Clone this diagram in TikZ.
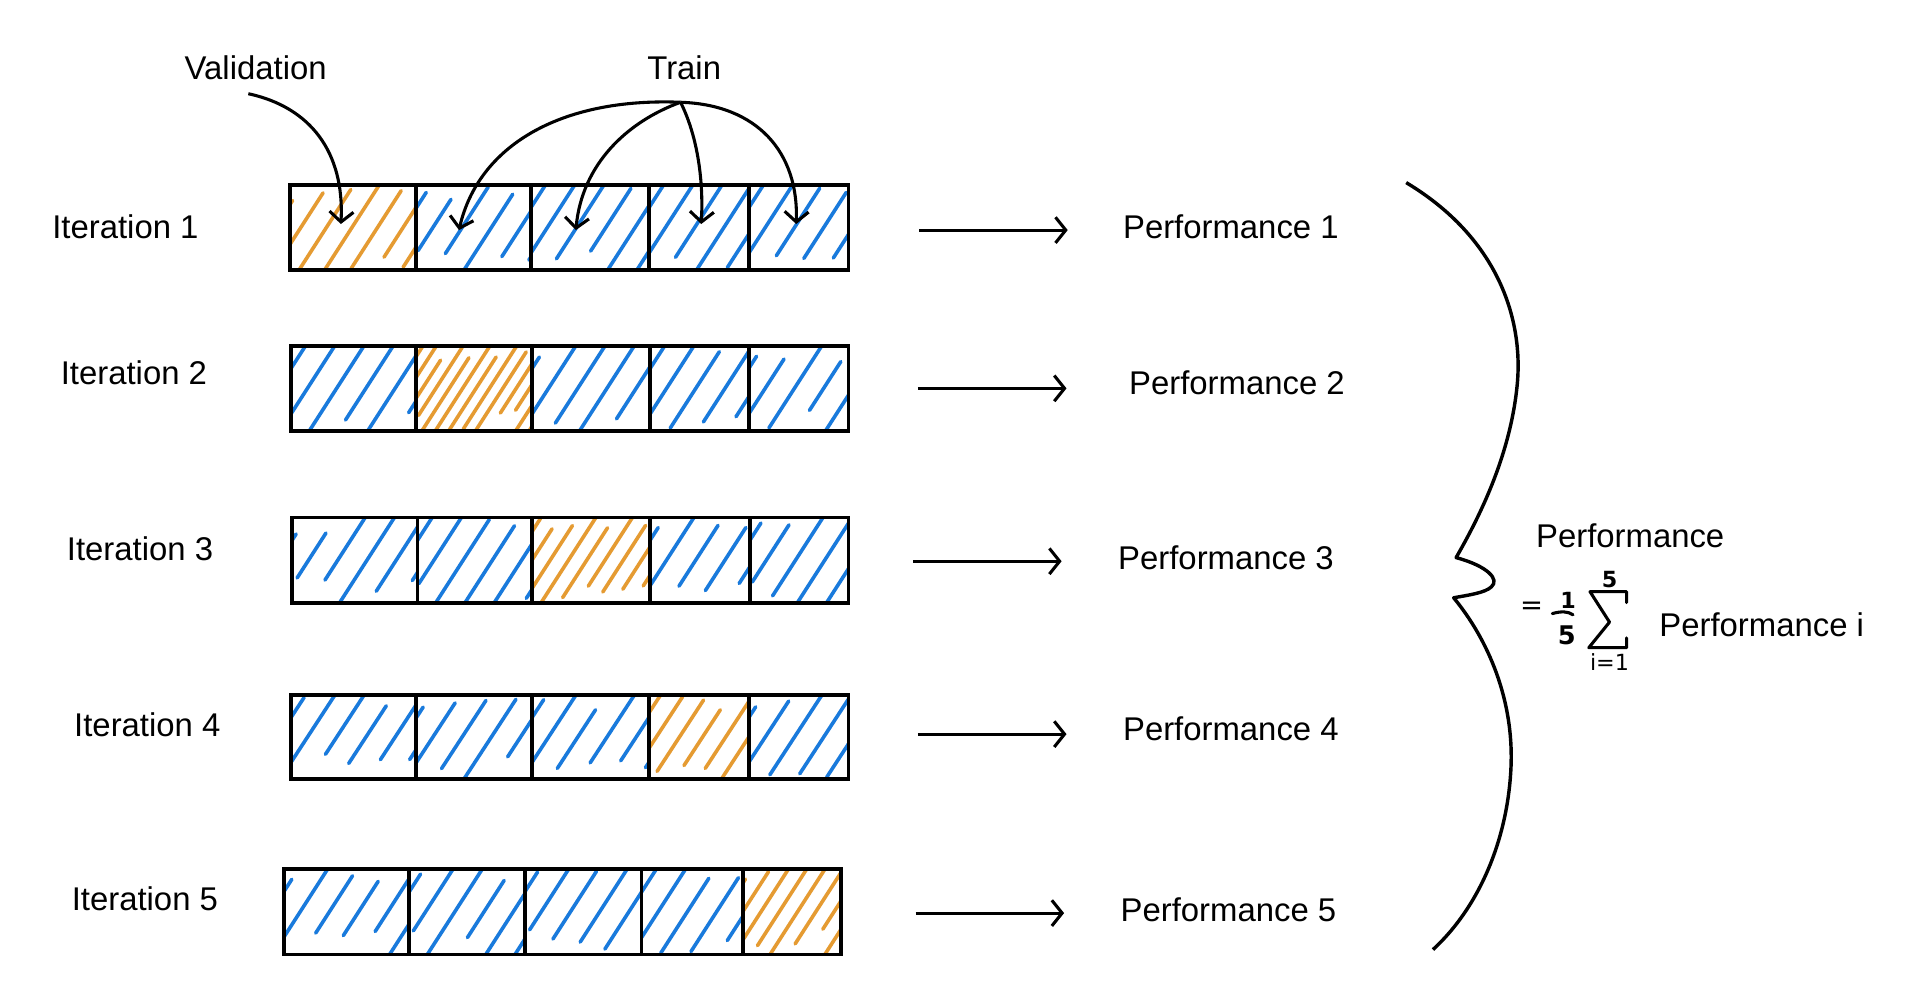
\documentclass[tikz,border=0pt]{standalone}
\usepackage{fontspec}
\setmainfont{Liberation Sans}
\newfontfamily\handfont{DejaVu Sans}
\usetikzlibrary{arrows.meta,calc}
\definecolor{hblue}{RGB}{25,122,220}
\definecolor{horange}{RGB}{229,155,50}
\tikzset{
  lab/.style={inner sep=0pt, font=\fontsize{9.6}{11.5}\selectfont},
  hw/.style={inner sep=0pt, font=\handfont\bfseries\fontsize{6.5}{7}\selectfont},
  hatch/.style={line width=1.05pt, line cap=round},
  boxline/.style={line width=1.1pt},
  arr/.style={line width=0.9pt, -{Straight Barb[length=3pt,width=7.5pt]}},
  carr/.style={line width=0.9pt, -{Straight Barb[length=3pt,width=7pt]}},
  hand/.style={line width=0.9pt, line join=round, line cap=round}
}
\newcommand{\hcell}[6]{%
  \begin{scope}
    \clip (#1,#3) rectangle (#2,#4);
    \pgfmathsetmacro{\hs}{#1-45+0.5*#6}
    \pgfmathsetmacro{\hn}{\hs+#6}
    \foreach \o in {\hs,\hn,...,#2}{%
      \pgfmathsetmacro{\ra}{max(0,0.4*rnd-0.1)}
      \pgfmathsetmacro{\rb}{min(1,1.15-0.35*rnd)}
      \draw[hatch,#5] ($(\o,#4)!\ra!(\o+45,#3)$) -- ($(\o,#4)!\rb!(\o+45,#3)$);
    }
  \end{scope}}
% row: x0..x5, ytop, ybot, validation index
\newcommand{\kfrow}[9]{%
  \foreach \i/\a/\b in {1/#1/#2,2/#2/#3,3/#3/#4,4/#4/#5,5/#5/#6}{%
    \ifnum\i=#9\relax
      \hcell{\a}{\b}{#7}{#8}{horange}{\valsp}
    \else
      \hcell{\a}{\b}{#7}{#8}{hblue}{24}
    \fi
  }
  \draw[boxline] (#1,#7) rectangle (#6,#8);
  \foreach \d in {#2,#3,#4,#5}{\draw[boxline] (\d,#7) -- (\d,#8);}
}
\begin{document}
\begin{tikzpicture}[x=0.0125cm,y=-0.0125cm]
\pgfmathsetseed{11}
\useasboundingbox (0,0) rectangle (1568,821);
\fill[white] (0,0) rectangle (1568,821);

% rows
\def\valsp{21}
\kfrow{238}{342}{436}{533}{615}{697}{152}{222}{1}
\def\valsp{11}
\kfrow{239}{342}{437}{534}{615}{697}{284}{354}{2}
\def\valsp{15}
\kfrow{240}{343}{437}{534}{616}{697}{425}{495}{3}
\def\valsp{19}
\kfrow{239}{342}{437}{533}{615}{697}{571}{640}{4}
\def\valsp{15}
\kfrow{233}{336}{431}{527}{610}{691}{714}{784}{5}

% iteration labels
\node[lab] (it1) at (103,186) {Iteration 1};
\node[lab] (it2) at (110,306) {Iteration 2};
\node[lab] (it3) at (115,451) {Iteration 3};
\node[lab] (it4) at (121,595) {Iteration 4};
\node[lab] (it5) at (119,738) {Iteration 5};

% performance labels
\node[lab] (pf1) at (1011,186) {Performance 1};
\node[lab] (pf2) at (1016,314) {Performance 2};
\node[lab] (pf3) at (1007,458) {Performance 3};
\node[lab] (pf4) at (1011,599) {Performance 4};
\node[lab] (pf5) at (1009,747) {Performance 5};

% horizontal arrows
\coordinate (a1s) at (755,189); \coordinate (a1e) at (877,189);
\coordinate (a2s) at (754,319); \coordinate (a2e) at (876,319);
\coordinate (a3s) at (750,461); \coordinate (a3e) at (872,461);
\coordinate (a4s) at (754,603); \coordinate (a4e) at (876,603);
\coordinate (a5s) at (752,750); \coordinate (a5e) at (874,750);
\foreach \k in {1,...,5}{\draw[arr] (a\k s) -- (a\k e);}

% top labels and curved arrows
\node[lab] (val) at (210,56) {Validation};
\node[lab] (train) at (562,56) {Train};
\coordinate (vs) at (204,77);
\coordinate (vt) at (280,184);
\coordinate (tr) at (559,84);
\coordinate (t1) at (377,189);
\coordinate (t2) at (473,189);
\coordinate (t3) at (576,184);
\coordinate (t4) at (654,184);
\draw[carr] (vs) .. controls (255,88) and (283,125) .. (vt);
\draw[carr] (tr) .. controls (460,80) and (393,120) .. (t1);
\draw[carr] (tr) .. controls (515,100) and (478,135) .. (t2);
\draw[carr] (tr) .. controls (572,110) and (578,145) .. (t3);
\draw[carr] (tr) .. controls (622,86) and (656,125) .. (t4);

% brace
\draw[line width=1pt, line join=round]
  (1155,150) .. controls (1230,195) and (1252,262) .. (1246,318)
  .. controls (1240,375) and (1215,425) .. (1196,458)
  .. controls (1222,465) and (1232,476) .. (1225,482)
  .. controls (1220,487) and (1205,489) .. (1194,491)
  .. controls (1222,525) and (1244,575) .. (1241,632)
  .. controls (1238,690) and (1215,745) .. (1177,780);

% formula
\node[lab] (perf) at (1339,440) {Performance};
\node[hw, font=\handfont\fontsize{8}{8}\selectfont] (eq) at (1258,500) {=};
\node[hw] (one) at (1288,493) {1};
\draw[hand] (1275,504) .. controls (1282,502) and (1288,502) .. (1292,505);
\node[hw, font=\handfont\bfseries\fontsize{7.5}{8}\selectfont] (five) at (1287,522) {5};
\draw[hand] (1336,495) -- (1336,486) -- (1306,486) -- (1322,511) -- (1305,532) -- (1336,532) -- (1336,524);
\node[hw] (up) at (1322,476) {5};
\node[hw, font=\handfont\fontsize{6.5}{7}\selectfont] (low) at (1322,544) {i=1};
\node[lab] (perfi) at (1447,513) {Performance i};
\end{tikzpicture}
\end{document}
